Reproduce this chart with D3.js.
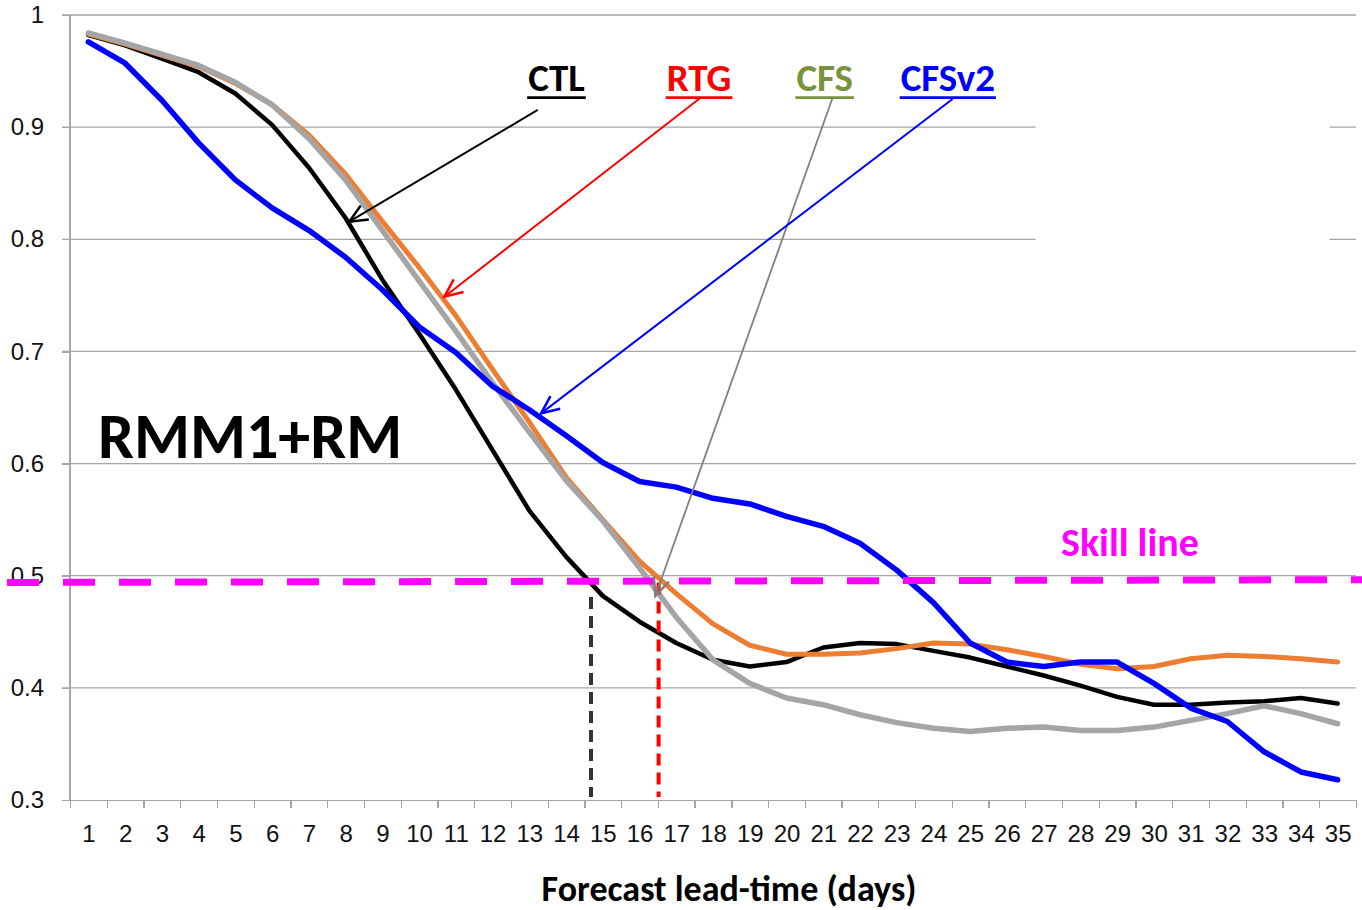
<!DOCTYPE html>
<html lang="en">
<head>
<meta charset="UTF-8">
<title>RMM1+RM skill vs lead time</title>
<script src="https://d3js.org/d3.v7.min.js"></script>
<style>
    body { margin: 0; background: #fff; }
    svg { display: block; font-family: Carlito, Calibri, Lato, sans-serif; }
    .grid line { stroke: #a6a6a6; stroke-width: 1.3; }
    .axis path, .axis line { stroke: #a6a6a6; stroke-width: 1.3; shape-rendering: crispEdges; }
    .axis text { font-size: 24px; fill: #111; }
    .series { fill: none; stroke-linejoin: round; stroke-linecap: round; }
</style>
</head>
<body>
<div id="chart"></div>
<script>
// lead-time days and correlation skill per experiment
const days = d3.range(1, 36);
const ctl = [0.982, 0.973, 0.961, 0.949, 0.930, 0.902, 0.864, 0.819, 0.764, 0.716,
             0.666, 0.612, 0.558, 0.517, 0.482, 0.459, 0.440, 0.425, 0.419, 0.423,
             0.436, 0.440, 0.439, 0.433, 0.427, 0.419, 0.411, 0.402, 0.392, 0.385,
             0.385, 0.387, 0.388, 0.391, 0.386];
const rtg = [0.983, 0.974, 0.964, 0.954, 0.939, 0.920, 0.893, 0.858, 0.816, 0.775,
             0.732, 0.684, 0.637, 0.588, 0.550, 0.513, 0.484, 0.457, 0.438, 0.430,
             0.430, 0.431, 0.435, 0.440, 0.439, 0.434, 0.428, 0.421, 0.417, 0.419,
             0.426, 0.429, 0.428, 0.426, 0.423];
const cfs = [0.984, 0.975, 0.965, 0.955, 0.940, 0.920, 0.890, 0.853, 0.808, 0.763,
             0.718, 0.672, 0.628, 0.585, 0.549, 0.507, 0.463, 0.425, 0.404, 0.391,
             0.385, 0.376, 0.369, 0.364, 0.361, 0.364, 0.365, 0.362, 0.362, 0.365,
             0.371, 0.377, 0.384, 0.377, 0.368];
const cfsv2 = [0.976, 0.957, 0.924, 0.886, 0.853, 0.828, 0.808, 0.784, 0.755, 0.722,
               0.699, 0.669, 0.648, 0.625, 0.601, 0.584, 0.579, 0.569, 0.564, 0.553,
               0.544, 0.529, 0.505, 0.476, 0.440, 0.423, 0.419, 0.423, 0.423, 0.404,
               0.382, 0.370, 0.343, 0.325, 0.318];
const yTicks = [0.3, 0.4, 0.5, 0.6, 0.7, 0.8, 0.9, 1];

// skill threshold (drawn slightly tilted in the original) and crossing days
const skillLine = [0.494, 0.4965];
const crossings = [{day: 14.68, value: 0.481, color: "#333333"},
                   {day: 16.52, value: 0.494, color: "#ff0000"}];

// call-out labels with their arrows, in data units
const callouts = [
    {name: "CTL",   color: "#000000", text: "#000000", lx: 13.74, ly: 0.9322, x0: 13.23, y0: 0.9153, x1: 8.10,  y1: 0.8157, w: 2},
    {name: "RTG",   color: "#ff0000", text: "#ff0000", lx: 17.62, ly: 0.9322, x0: 17.68, y0: 0.9266, x1: 10.69, y1: 0.7488, w: 2},
    {name: "CFS",   color: "#808080", text: "#77933c", lx: 21.04, ly: 0.9322, x0: 21.26, y0: 0.9266, x1: 16.43, y1: 0.4819, w: 1.8},
    {name: "CFSv2", color: "#0000ff", text: "#0000ff", lx: 24.39, ly: 0.9322, x0: 24.52, y0: 0.9251, x1: 13.32, y1: 0.6448, w: 2}
];

const W = 1362, H = 910;
const x = d3.scaleLinear().domain([0.5, 35.5]).range([70, 1356]);
const y = d3.scaleLinear().domain([0.3, 1]).range([800, 15]);

const svg = d3.select("#chart").append("svg").attr("width", W).attr("height", H);

// arrow heads
const defs = svg.append("defs");
callouts.forEach((c, i) => {
    defs.append("marker")
        .attr("id", "arrow" + i)
        .attr("markerUnits", "userSpaceOnUse")
        .attr("viewBox", "-20 -10 22 20")
        .attr("markerWidth", 22).attr("markerHeight", 20)
        .attr("refX", 0).attr("refY", 0)
        .attr("orient", "auto")
        .append("path")
        .attr("d", "M-18,-8L0,0L-18,8")
        .attr("fill", "none")
        .attr("stroke", c.color)
        .attr("stroke-width", 2.5);
});

// gridlines
svg.append("g").attr("class", "grid")
    .selectAll("line").data(yTicks.filter(d => d > 0.3)).join("line")
    .attr("x1", 62).attr("x2", x.range()[1])
    .attr("y1", d => y(d)).attr("y2", d => y(d));

// blank patch over the upper gridlines (hidden legend box in the original)
svg.append("rect")
    .attr("x", x(26.78)).attr("y", y(0.93))
    .attr("width", x(34.78) - x(26.78)).attr("height", y(0.77) - y(0.93))
    .attr("fill", "#fff");

// y axis
const yAxis = svg.append("g").attr("class", "axis")
    .attr("transform", `translate(${x.range()[0]},0)`)
    .call(d3.axisLeft(y).tickValues(yTicks).tickFormat(d => d === 1 ? "1" : d3.format(".1f")(d)).tickSize(8).tickPadding(18));
yAxis.select(".domain").attr("d", `M0,${y(1)}V${y(0.3)}`);

// x axis: tick marks at category edges, labels at centres
svg.append("g").attr("class", "axis")
    .attr("transform", `translate(0,${y(0.3)})`)
    .call(d3.axisBottom(x).tickValues(d3.range(0.5, 36, 1)).tickFormat("").tickSize(8).tickSizeOuter(0));
svg.append("g").attr("class", "axis")
    .attr("transform", `translate(0,${y(0.3)})`)
    .call(d3.axisBottom(x).tickValues(days).tickSize(0).tickPadding(25))
    .select(".domain").remove();

// series
const line = d3.line().x((d, i) => x(days[i])).y(d => y(d));
const series = [
    {values: ctl, color: "#000000", width: 4.5},
    {values: rtg, color: "#ed7d31", width: 5},
    {values: cfs, color: "#a5a5a5", width: 5.5},
    {values: cfsv2, color: "#0000ff", width: 5.5}
];
series.forEach(s => {
    svg.append("path").attr("class", "series")
        .datum(s.values)
        .attr("d", line)
        .attr("stroke", s.color)
        .attr("stroke-width", s.width);
});

// skill line
svg.append("line")
    .attr("x1", 7).attr("x2", W)
    .attr("y1", y(skillLine[0])).attr("y2", y(skillLine[1]))
    .attr("stroke", "#ff00ff").attr("stroke-width", 7)
    .attr("stroke-dasharray", "32 24");
svg.append("text")
    .attr("x", 1061).attr("y", 556)
    .attr("fill", "#ff00ff").attr("font-weight", "bold").attr("font-size", 40)
    .text("Skill line");

// vertical markers at the skill crossings
svg.selectAll(".cross").data(crossings).join("line")
    .attr("class", "cross")
    .attr("x1", d => x(d.day)).attr("x2", d => x(d.day))
    .attr("y1", d => y(d.value)).attr("y2", y(0.3) - 3)
    .attr("stroke", d => d.color).attr("stroke-width", 4)
    .attr("stroke-dasharray", "12 7");

// call-outs
callouts.forEach((c, i) => {
    const t = svg.append("text")
        .attr("x", x(c.lx)).attr("y", y(c.ly))
        .attr("text-anchor", "middle")
        .attr("font-weight", "bold").attr("font-size", 39)
        .attr("fill", c.text)
        .text(c.name);
    const bb = t.node().getBBox();
    svg.append("line")
        .attr("x1", bb.x - 1).attr("x2", bb.x + bb.width + 1)
        .attr("y1", y(c.ly) + 6.5).attr("y2", y(c.ly) + 6.5)
        .attr("stroke", c.text).attr("stroke-width", 2.8);
    svg.append("line")
        .attr("x1", x(c.x0)).attr("y1", y(c.y0))
        .attr("x2", x(c.x1)).attr("y2", y(c.y1))
        .attr("stroke", c.color).attr("stroke-width", c.w)
        .attr("marker-end", `url(#arrow${i})`);
});

// panel title
svg.append("text")
    .attr("x", 98).attr("y", 458)
    .attr("font-weight", "bold").attr("font-size", 64)
    .text("RMM1+RM");

// axis title
svg.append("text")
    .attr("x", 729).attr("y", 901)
    .attr("text-anchor", "middle")
    .attr("font-weight", "bold").attr("font-size", 36)
    .text("Forecast lead-time (days)");
</script>
</body>
</html>
